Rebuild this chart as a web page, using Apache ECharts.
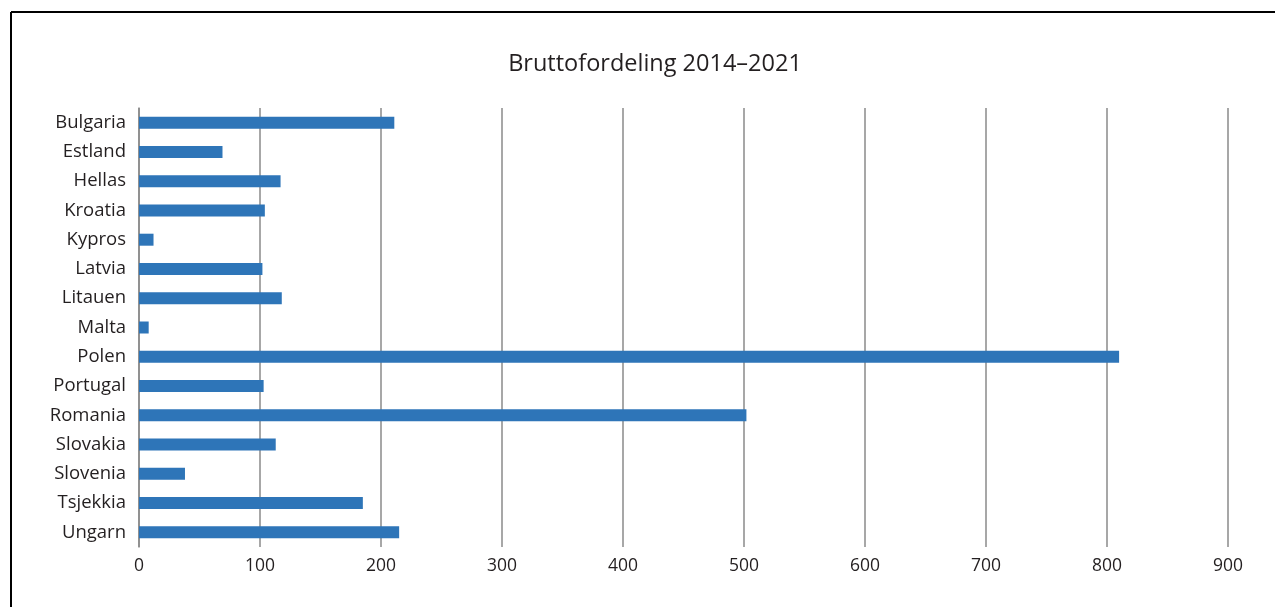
<!DOCTYPE html>
<html>
<head>
<meta charset="utf-8">
<script src="https://cdn.jsdelivr.net/npm/echarts@6/dist/echarts.min.js"></script>
<style>
html,body{margin:0;padding:0;background:#fff;}
#chart{width:1275px;height:607px;}
</style>
</head>
<body>
<div id="chart"></div>
<script>
const categories = ["Bulgaria","Estland","Hellas","Kroatia","Kypros","Latvia","Litauen","Malta","Polen","Portugal","Romania","Slovakia","Slovenia","Tsjekkia","Ungarn"];
const values = [211, 69, 117, 104, 12, 102, 118, 8, 810, 103, 502, 113, 38, 185, 215];
const xTicks = { min: 0, max: 900, interval: 100 };
const titleText = "Bruttofordeling 2014–2021";

const chart = echarts.init(document.getElementById('chart'));
chart.setOption({
  animation: false,
  backgroundColor: '#fff',
  title: {
    text: titleText,
    left: 650, top: 47, textAlign: 'center',
    textStyle: { fontFamily: 'Open Sans', fontSize: 23.5, fontWeight: 'normal', color: '#231f20' }
  },
  graphic: [
    { type: 'line', shape: { x1: 11, y1: 12, x2: 1275, y2: 12 }, style: { stroke: '#000', lineWidth: 2 } },
    { type: 'line', shape: { x1: 11, y1: 12, x2: 11, y2: 607 }, style: { stroke: '#000', lineWidth: 2 } }
  ],
  grid: { left: 139, right: 47, top: 108, bottom: 60 },
  xAxis: {
    type: 'value', min: xTicks.min, max: xTicks.max, interval: xTicks.interval,
    axisLine: { show: false }, axisTick: { show: false },
    splitLine: { show: true, lineStyle: { color: '#8a8a8a', width: 1.5 } },
    axisLabel: { margin: 10, fontFamily: 'Open Sans', fontSize: 17.5, color: '#231f20' }
  },
  yAxis: {
    type: 'category', data: categories, inverse: true,
    axisLine: { show: true, lineStyle: { color: '#8a8a8a', width: 1.5 } },
    axisTick: { show: false },
    axisLabel: { margin: 13, fontFamily: 'Open Sans', fontSize: 18.5, color: '#231f20' }
  },
  series: [{
    type: 'bar', data: values, barWidth: 12,
    itemStyle: { color: '#2e75b8' }
  }]
});
</script>
</body>
</html>
